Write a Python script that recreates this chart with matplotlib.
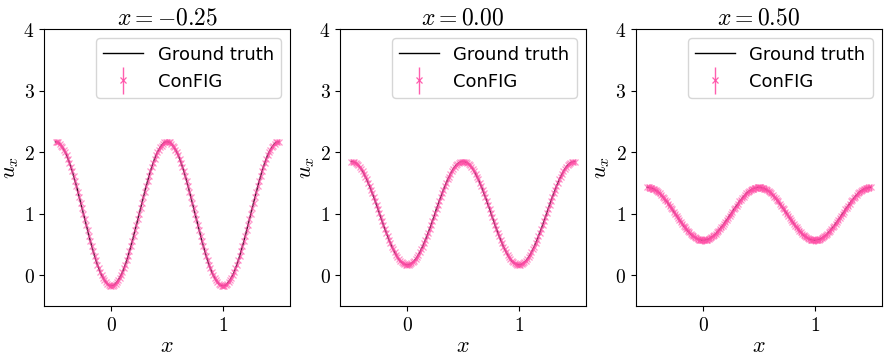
import numpy as np
import matplotlib
matplotlib.use("Agg")
import matplotlib.pyplot as plt
from matplotlib.container import ErrorbarContainer
from matplotlib.legend_handler import HandlerErrorbar

plt.rcParams['mathtext.fontset'] = 'cm'
plt.rcParams['font.family'] = ['DejaVu Sans']

titles = [r"$x=-0.25$", r"$x=0.00$", r"$x=0.50$"]

# sample positions along the line
x_vals = np.linspace(-0.5, 1.5, 161)

# values, one per sample
u_m025 = [2.17, 2.17, 2.16, 2.14, 2.11, 2.08, 2.04, 2.00, 1.95, 1.89, 1.83, 1.76, 1.69, 1.61, 1.53, 1.45, 1.36, 1.27, 1.18, 1.09,
          1.00, 0.91, 0.82, 0.73, 0.64, 0.55, 0.47, 0.39, 0.31, 0.24, 0.17, 0.11, 0.05, 0.00, -0.04, -0.08, -0.11, -0.14, -0.16, -0.17, -0.17,
          -0.17, -0.16, -0.14, -0.11, -0.08, -0.04, 0.00, 0.05, 0.11, 0.17, 0.24, 0.31, 0.39, 0.47, 0.55, 0.64, 0.73, 0.82, 0.91, 1.00,
          1.09, 1.18, 1.27, 1.36, 1.45, 1.53, 1.61, 1.69, 1.76, 1.83, 1.89, 1.95, 2.00, 2.04, 2.08, 2.11, 2.14, 2.16, 2.17, 2.17,
          2.17, 2.16, 2.14, 2.11, 2.08, 2.04, 2.00, 1.95, 1.89, 1.83, 1.76, 1.69, 1.61, 1.53, 1.45, 1.36, 1.27, 1.18, 1.09, 1.00,
          0.91, 0.82, 0.73, 0.64, 0.55, 0.47, 0.39, 0.31, 0.24, 0.17, 0.11, 0.05, 0.00, -0.04, -0.08, -0.11, -0.14, -0.16, -0.17, -0.17,
          -0.17, -0.16, -0.14, -0.11, -0.08, -0.04, 0.00, 0.05, 0.11, 0.17, 0.24, 0.31, 0.39, 0.47, 0.55, 0.64, 0.73, 0.82, 0.91, 1.00,
          1.09, 1.18, 1.27, 1.36, 1.45, 1.53, 1.61, 1.69, 1.76, 1.83, 1.89, 1.95, 2.00, 2.04, 2.08, 2.11, 2.14, 2.16, 2.17, 2.17]
u_000 = [1.85, 1.85, 1.84, 1.83, 1.81, 1.79, 1.76, 1.73, 1.69, 1.65, 1.60, 1.56, 1.50, 1.45, 1.39, 1.33, 1.27, 1.21, 1.14, 1.08,
         1.01, 0.94, 0.88, 0.81, 0.75, 0.69, 0.63, 0.57, 0.52, 0.46, 0.42, 0.37, 0.33, 0.29, 0.26, 0.23, 0.21, 0.19, 0.18, 0.17, 0.17,
         0.17, 0.18, 0.19, 0.21, 0.23, 0.26, 0.29, 0.33, 0.37, 0.42, 0.46, 0.52, 0.57, 0.63, 0.69, 0.75, 0.81, 0.88, 0.94, 1.01,
         1.08, 1.14, 1.21, 1.27, 1.33, 1.39, 1.45, 1.50, 1.56, 1.60, 1.65, 1.69, 1.73, 1.76, 1.79, 1.81, 1.83, 1.84, 1.85, 1.85,
         1.85, 1.84, 1.83, 1.81, 1.79, 1.76, 1.73, 1.69, 1.65, 1.60, 1.56, 1.50, 1.45, 1.39, 1.33, 1.27, 1.21, 1.14, 1.08, 1.01,
         0.94, 0.88, 0.81, 0.75, 0.69, 0.63, 0.57, 0.52, 0.46, 0.42, 0.37, 0.33, 0.29, 0.26, 0.23, 0.21, 0.19, 0.18, 0.17, 0.17,
         0.17, 0.18, 0.19, 0.21, 0.23, 0.26, 0.29, 0.33, 0.37, 0.42, 0.46, 0.52, 0.57, 0.63, 0.69, 0.75, 0.81, 0.88, 0.94, 1.01,
         1.08, 1.14, 1.21, 1.27, 1.33, 1.39, 1.45, 1.50, 1.56, 1.60, 1.65, 1.69, 1.73, 1.76, 1.79, 1.81, 1.83, 1.84, 1.85, 1.85]
u_050 = [1.43, 1.43, 1.42, 1.42, 1.41, 1.40, 1.38, 1.37, 1.35, 1.33, 1.30, 1.28, 1.25, 1.22, 1.20, 1.16, 1.13, 1.10, 1.07, 1.03,
         1.00, 0.97, 0.93, 0.90, 0.87, 0.84, 0.80, 0.78, 0.75, 0.72, 0.70, 0.67, 0.65, 0.63, 0.62, 0.60, 0.59, 0.58, 0.58, 0.57, 0.57,
         0.57, 0.58, 0.58, 0.59, 0.60, 0.62, 0.63, 0.65, 0.67, 0.70, 0.72, 0.75, 0.78, 0.80, 0.84, 0.87, 0.90, 0.93, 0.97, 1.00,
         1.03, 1.07, 1.10, 1.13, 1.16, 1.20, 1.22, 1.25, 1.28, 1.30, 1.33, 1.35, 1.37, 1.38, 1.40, 1.41, 1.42, 1.42, 1.43, 1.43,
         1.43, 1.42, 1.42, 1.41, 1.40, 1.38, 1.37, 1.35, 1.33, 1.30, 1.28, 1.25, 1.22, 1.20, 1.16, 1.13, 1.10, 1.07, 1.03, 1.00,
         0.97, 0.93, 0.90, 0.87, 0.84, 0.80, 0.78, 0.75, 0.72, 0.70, 0.67, 0.65, 0.63, 0.62, 0.60, 0.59, 0.58, 0.58, 0.57, 0.57,
         0.57, 0.58, 0.58, 0.59, 0.60, 0.62, 0.63, 0.65, 0.67, 0.70, 0.72, 0.75, 0.78, 0.80, 0.84, 0.87, 0.90, 0.93, 0.97, 1.00,
         1.03, 1.07, 1.10, 1.13, 1.16, 1.20, 1.22, 1.25, 1.28, 1.30, 1.33, 1.35, 1.37, 1.38, 1.40, 1.41, 1.42, 1.42, 1.43, 1.43]
truth = [u_m025, u_000, u_050]
config_pred = [u_m025, u_000, u_050]
config_err = [0.04, 0.04, 0.06]

pink = '#ff4da6'

fig, axes = plt.subplots(1, 3, figsize=(8.87, 3.59), dpi=100)
fig.subplots_adjust(left=0.05, right=0.994, bottom=0.148, top=0.918, wspace=0.205)

for i, ax in enumerate(axes):
    ax.plot(x_vals, truth[i], color='black', lw=1.0, label='Ground truth', zorder=2)
    ax.errorbar(x_vals, config_pred[i], yerr=config_err[i], fmt='x', color=pink,
                ms=4.5, mew=0.9, elinewidth=1.0, alpha=0.6, label='ConFIG', zorder=3)
    ax.set_ylim(-0.5, 4)
    ax.set_xlim(-0.6, 1.6)
    ax.set_xticks([0, 1])
    ax.set_xticklabels([r"$0$", r"$1$"])
    ax.set_yticks([0, 1, 2, 3, 4])
    ax.set_yticklabels([r"$0$", r"$1$", r"$2$", r"$3$", r"$4$"])
    ax.tick_params(labelsize=14)
    ax.set_title(titles[i], fontsize=17, pad=3)
    ax.set_xlabel(r"$x$", fontsize=16, labelpad=1)
    ax.set_ylabel(r"$u_x$", fontsize=16, labelpad=2)
    leg = ax.legend(loc='upper right', fontsize=13, handlelength=2.2,
                    handler_map={ErrorbarContainer: HandlerErrorbar(yerr_size=0.75)})
    for art in leg.get_children()[0].findobj(match=lambda a: hasattr(a, 'get_color') and a.get_alpha() == 0.6):
        art.set_alpha(0.9)

plt.savefig("out.png", dpi=100)
